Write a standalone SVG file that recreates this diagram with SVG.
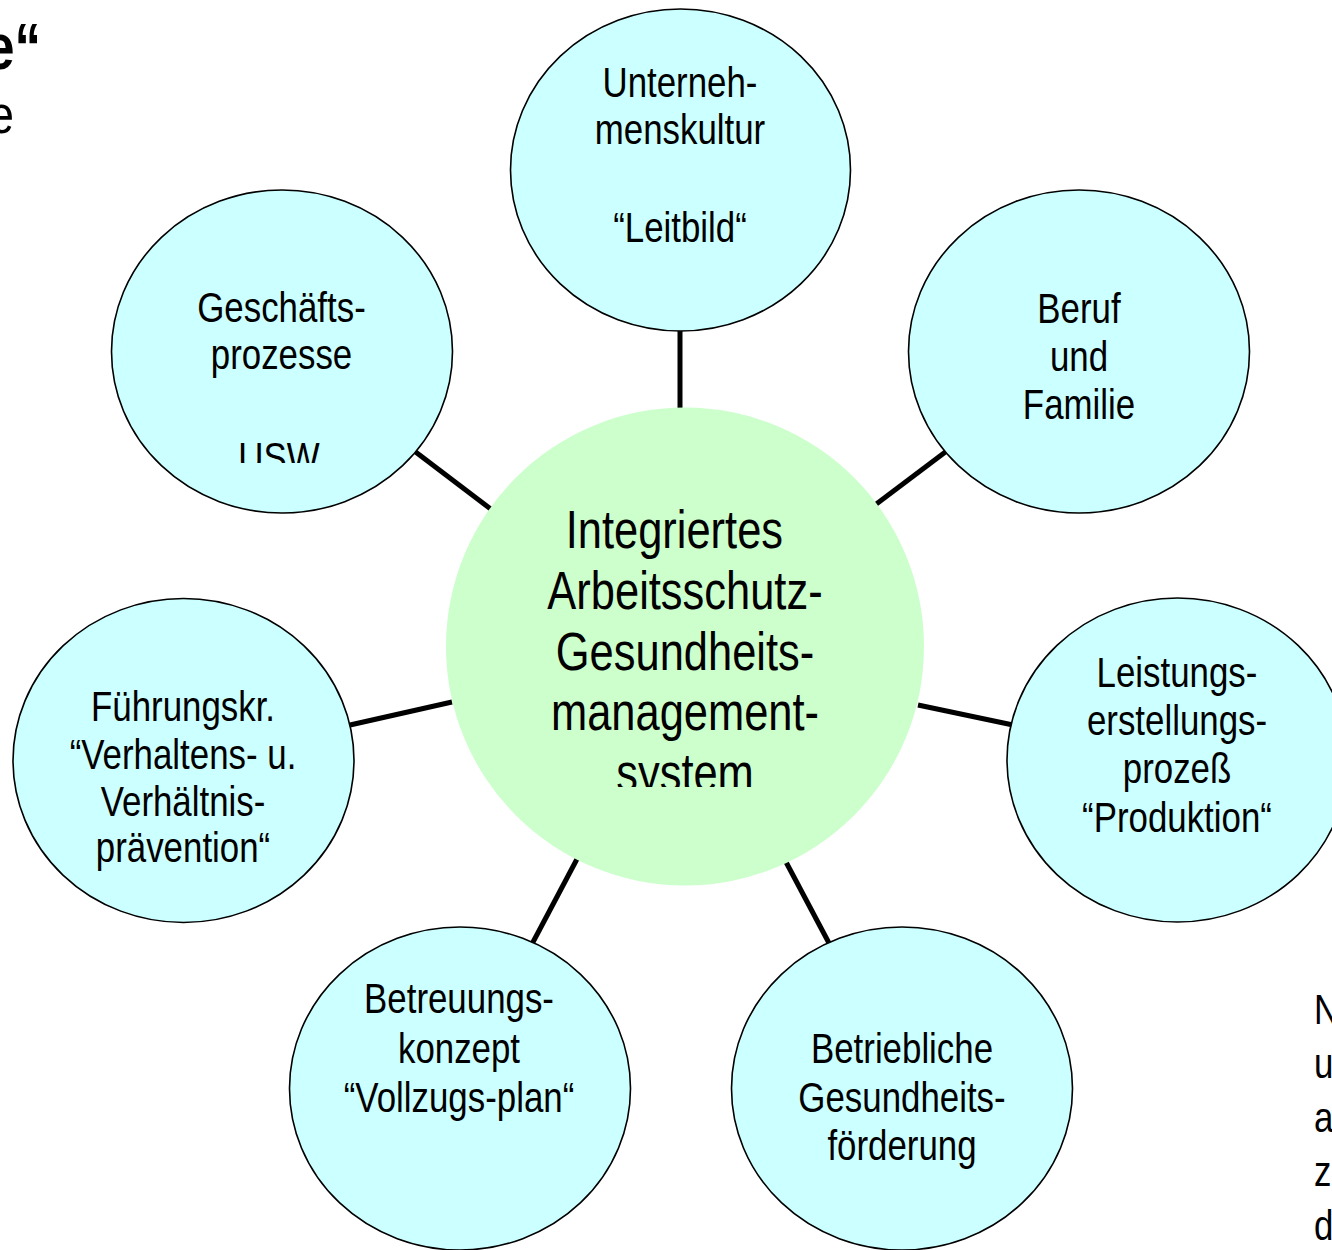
<svg xmlns="http://www.w3.org/2000/svg" width="1332" height="1250" viewBox="0 0 1332 1250">
<defs>
<style>
.node{fill:#ccffff;stroke:#000;stroke-width:1.6}
.core{fill:#ccffcc;stroke:none}
.conn line{stroke:#000;stroke-width:5;stroke-linecap:butt}
text{font-family:"Liberation Sans",Arial,Helvetica,sans-serif;fill:#000}
.lbl{font-size:42px;text-anchor:middle}
.big{font-size:53px;text-anchor:middle}
</style>
<clipPath id="clipUsw" clipPathUnits="userSpaceOnUse"><rect x="-300" y="0" width="600" height="463"/></clipPath>
<clipPath id="clipSys" clipPathUnits="userSpaceOnUse"><rect x="-400" y="0" width="800" height="787"/></clipPath>
</defs>
<rect width="1332" height="1250" fill="#fff"/>

<g id="title-fragments">
<g transform="translate(41 0) scale(0.83 1)"><text x="0" y="69" font-size="64" font-weight="bold" text-anchor="end">e“</text></g>
<g transform="translate(14 0) scale(0.83 1)"><text x="0" y="133" font-size="54" text-anchor="end">e</text></g>
</g>

<g id="connectors" class="conn">
<line x1="680" y1="330" x2="680" y2="410"/>
<line x1="413" y1="450" x2="492" y2="510"/>
<line x1="948" y1="450" x2="875" y2="505"/>
<line x1="350" y1="725" x2="452" y2="702"/>
<line x1="918" y1="705" x2="1013" y2="725"/>
<line x1="577" y1="859" x2="532" y2="944"/>
<line x1="786" y1="862" x2="830" y2="945"/>
</g>

<g id="center">
<circle class="core" cx="685" cy="646.5" r="239"/>
<g transform="translate(685 0) scale(0.82 1)">
<text class="big" x="-13" y="548">Integriertes</text>
<text class="big" x="0" y="609">Arbeitsschutz-</text>
<text class="big" x="0" y="670">Gesundheits-</text>
<text class="big" x="0" y="730">management-</text>
<text class="big" x="0" y="791" clip-path="url(#clipSys)">system</text>
</g>
</g>

<g id="n-unternehmenskultur">
<ellipse class="node" cx="680.5" cy="170" rx="170" ry="161"/>
<g transform="translate(680 0) scale(0.83 1)">
<text class="lbl" x="0" y="97">Unterneh-</text>
<text class="lbl" x="0" y="144">menskultur</text>
<text class="lbl" x="0" y="242">“Leitbild“</text>
</g>
</g>

<g id="n-geschaeftsprozesse">
<ellipse class="node" cx="282" cy="351.5" rx="170.5" ry="161.5"/>
<g transform="translate(279 0) scale(0.83 1)">
<text class="lbl" x="3" y="322">Geschäfts-</text>
<text class="lbl" x="3" y="369">prozesse</text>
<text class="lbl" x="0" y="472" clip-path="url(#clipUsw)">USW</text>
</g>
</g>

<g id="n-beruf-familie">
<ellipse class="node" cx="1079" cy="351.5" rx="170.5" ry="161.5"/>
<g transform="translate(1079 0) scale(0.83 1)">
<text class="lbl" x="0" y="323">Beruf</text>
<text class="lbl" x="0" y="371">und</text>
<text class="lbl" x="0" y="419">Familie</text>
</g>
</g>

<g id="n-fuehrungskraefte">
<ellipse class="node" cx="183.5" cy="760.5" rx="170.5" ry="162"/>
<g transform="translate(183 0) scale(0.83 1)">
<text class="lbl" x="0" y="721">Führungskr.</text>
<text class="lbl" x="0" y="769">“Verhaltens- u.</text>
<text class="lbl" x="0" y="816">Verhältnis-</text>
<text class="lbl" x="0" y="862">prävention“</text>
</g>
</g>

<g id="n-leistungserstellung">
<ellipse class="node" cx="1177.5" cy="760" rx="170.5" ry="162"/>
<g transform="translate(1177 0) scale(0.83 1)">
<text class="lbl" x="0" y="687">Leistungs-</text>
<text class="lbl" x="0" y="735">erstellungs-</text>
<text class="lbl" x="0" y="783">prozeß</text>
<text class="lbl" x="0" y="832">“Produktion“</text>
</g>
</g>

<g id="n-betreuungskonzept">
<ellipse class="node" cx="460" cy="1088.5" rx="170.5" ry="161.5"/>
<g transform="translate(459 0) scale(0.83 1)">
<text class="lbl" x="0" y="1013">Betreuungs-</text>
<text class="lbl" x="0" y="1063">konzept</text>
<text class="lbl" x="0" y="1112">“Vollzugs-plan“</text>
</g>
</g>

<g id="n-gesundheitsfoerderung">
<ellipse class="node" cx="902" cy="1088.5" rx="170.5" ry="161.5"/>
<g transform="translate(902 0) scale(0.83 1)">
<text class="lbl" x="0" y="1063">Betriebliche</text>
<text class="lbl" x="0" y="1112">Gesundheits-</text>
<text class="lbl" x="0" y="1160">förderung</text>
</g>
</g>

<g id="side-fragments">
<g transform="translate(1314 0) scale(0.83 1)">
<text x="0" y="1024" font-size="42">N</text>
<text x="0" y="1078" font-size="42">u</text>
<text x="0" y="1132" font-size="42">a</text>
<text x="0" y="1186" font-size="42">z</text>
<text x="0" y="1240" font-size="42">d</text>
</g>
</g>
</svg>
